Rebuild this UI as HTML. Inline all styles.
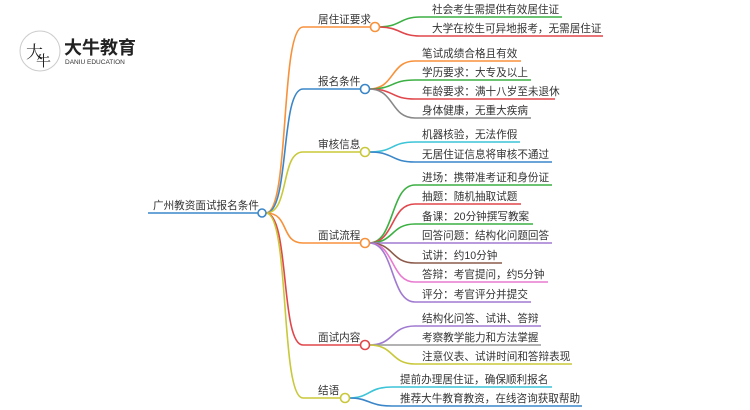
<!DOCTYPE html>
<html><head><meta charset="utf-8"><style>
html,body{margin:0;padding:0;background:#fff;}
svg{display:block;}
text{font-family:"Liberation Sans","Noto Sans CJK SC",sans-serif;fill:#333;}
.l{font-size:10.6px;}
.b{font-size:10.6px;}
path{fill:none;stroke-width:1.6;}
</style></head><body>
<svg width="750" height="410" viewBox="0 0 750 410" xmlns="http://www.w3.org/2000/svg">
<!-- logo -->
<circle cx="40" cy="51" r="20" fill="#fff" stroke="#ccc" stroke-width="1"/>
<path d="M23 41 A20 20 0 0 1 57 41 Z" fill="#d9262c" stroke="none"/>
<text x="26" y="58" style="font-size:17px;fill:#222;font-family:'Noto Serif CJK SC',serif">大</text>
<text x="36" y="66" style="font-size:15px;fill:#222;font-family:'Noto Serif CJK SC',serif">牛</text>
<text x="64" y="54" style="font-size:18px;font-weight:bold;fill:#222">大牛教育</text>
<text x="65" y="64" style="font-size:6.5px;fill:#333">DANIU EDUCATION</text>

<!-- root -->
<path d="M148 213 L258 213" stroke="#3a86c8"/>
<text x="153" y="209" class="b">广州教资面试报名条件</text>
<!-- branch curves -->
<path d="M266 213 C290 213 280 27 303 27 L371 27" stroke="#f7913a"/>
<path d="M266 213 C290 213 280 89 303 89 L361 89" stroke="#3a86c8"/>
<path d="M266 213 C290 213 280 152 303 152 L361 152" stroke="#c8c83a"/>
<path d="M266 213 C290 213 280 243 303 243 L361 243" stroke="#f7913a"/>
<path d="M266 213 C290 213 280 345 303 345 L361 345" stroke="#e0474c"/>
<path d="M266 213 C290 213 280 398 303 398 L341 398" stroke="#c8c83a"/>
<circle cx="262" cy="213" r="4" fill="#fff" stroke="#3a86c8" stroke-width="1.6"/>

<text x="318" y="23" class="b">居住证要求</text>
<text x="318" y="85" class="b">报名条件</text>
<text x="318" y="148" class="b">审核信息</text>
<text x="318" y="239" class="b">面试流程</text>
<text x="318" y="341" class="b">面试内容</text>
<text x="318" y="394" class="b">结语</text>

<!-- 居住证 leaves -->
<path d="M379 27 C400 27 400 17 420 17 L562 17" stroke="#3cb043"/>
<path d="M379 27 C400 27 400 36 420 36 L603 36" stroke="#e0474c"/>
<circle cx="375" cy="27" r="4.5" fill="#fff" stroke="#f7913a" stroke-width="1.6"/>
<text x="432" y="13" class="l">社会考生需提供有效居住证</text>
<text x="432" y="32" class="l">大学在校生可异地报考，无需居住证</text>

<!-- 报名 -->
<path d="M369 89 C395 89 390 61 415 61 L521 61" stroke="#f7913a"/>
<path d="M369 89 C395 89 390 80 415 80 L531 80" stroke="#3cb043"/>
<path d="M369 89 C395 89 390 99 415 99 L555 99" stroke="#e0474c"/>
<path d="M369 89 C395 89 390 118 415 118 L531 118" stroke="#888"/>
<circle cx="365" cy="89" r="4.5" fill="#fff" stroke="#3a86c8" stroke-width="1.6"/>
<text x="422" y="57" class="l">笔试成绩合格且有效</text>
<text x="422" y="76" class="l">学历要求：大专及以上</text>
<text x="422" y="95" class="l">年龄要求：满十八岁至未退休</text>
<text x="422" y="114" class="l">身体健康，无重大疾病</text>

<!-- 审核 -->
<path d="M369 152 C395 152 390 142 415 142 L520 142" stroke="#3cc4d8"/>
<path d="M369 152 C395 152 390 162 415 162 L552 162" stroke="#3a86c8"/>
<circle cx="365" cy="152" r="4.5" fill="#fff" stroke="#c8c83a" stroke-width="1.6"/>
<text x="422" y="138" class="l">机器核验，无法作假</text>
<text x="422" y="158" class="l">无居住证信息将审核不通过</text>

<!-- 面试流程 -->
<path d="M369 243 C395 243 390 185 415 185 L552 185" stroke="#3cb043"/>
<path d="M369 243 C395 243 390 204 415 204 L521 204" stroke="#e0474c"/>
<path d="M369 243 C395 243 390 224 415 224 L533 224" stroke="#3cb043"/>
<path d="M369 243 L552 243" stroke="#a07ad0"/>
<path d="M369 243 C395 243 390 263 415 263 L502 263" stroke="#8b5a4a"/>
<path d="M369 243 C395 243 390 282 415 282 L548 282" stroke="#e87ad0"/>
<path d="M369 243 C395 243 390 302 415 302 L531 302" stroke="#a07ad0"/>
<circle cx="365" cy="243" r="4.5" fill="#fff" stroke="#f7913a" stroke-width="1.6"/>
<text x="422" y="181" class="l">进场：携带准考证和身份证</text>
<text x="422" y="200" class="l">抽题：随机抽取试题</text>
<text x="422" y="220" class="l">备课：20分钟撰写教案</text>
<text x="422" y="239" class="l">回答问题：结构化问题回答</text>
<text x="422" y="259" class="l">试讲：约10分钟</text>
<text x="422" y="278" class="l">答辩：考官提问，约5分钟</text>
<text x="422" y="298" class="l">评分：考官评分并提交</text>

<!-- 面试内容 -->
<path d="M369 345 C395 345 390 326 415 326 L541 326" stroke="#a07ad0"/>
<path d="M369 345 L541 345" stroke="#999"/>
<path d="M369 345 C395 345 390 364 415 364 L572 364" stroke="#c8c83a"/>
<circle cx="365" cy="345" r="4.5" fill="#fff" stroke="#e0474c" stroke-width="1.6"/>
<text x="422" y="322" class="l">结构化问答、试讲、答辩</text>
<text x="422" y="341" class="l">考察教学能力和方法掌握</text>
<text x="422" y="360" class="l">注意仪表、试讲时间和答辩表现</text>

<!-- 结语 -->
<path d="M349 398 C370 398 368 387 392 387 L552 387" stroke="#3cc4d8"/>
<path d="M349 398 C370 398 368 406 392 406 L582 406" stroke="#3a86c8"/>
<circle cx="345" cy="398" r="4.5" fill="#fff" stroke="#c8c83a" stroke-width="1.6"/>
<text x="400" y="383" class="l">提前办理居住证，确保顺利报名</text>
<text x="400" y="402" class="l">推荐大牛教育教资，在线咨询获取帮助</text>
</svg>
</body></html>
